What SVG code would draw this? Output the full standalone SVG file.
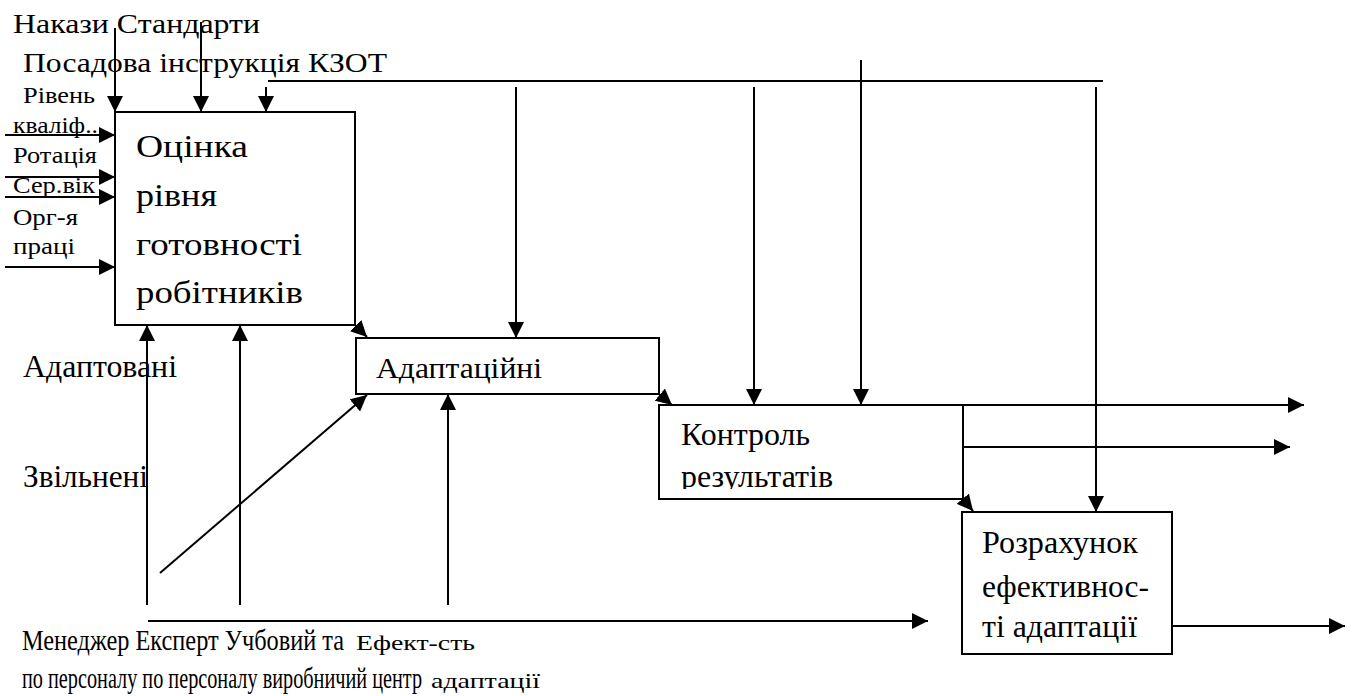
<svg xmlns="http://www.w3.org/2000/svg" width="1352" height="696" viewBox="0 0 1352 696" font-family="Liberation Serif, DejaVu Serif, Times New Roman, serif">
<defs>
<marker id="ah" markerUnits="userSpaceOnUse" markerWidth="16" markerHeight="16" refX="16" refY="8" orient="auto">
<path d="M0,0 L16,8 L0,16 Z" fill="#000"/>
</marker>
<clipPath id="clip3"><rect x="659" y="405" width="304" height="84"/></clipPath>
<style>
text{font-family:"Liberation Serif","DejaVu Serif","Times New Roman",serif;fill:#000}
.box{fill:#fff;stroke:#000;stroke-width:2}
.c line{stroke:#000;stroke-width:2;fill:none}
.a{marker-end:url(#ah)}
</style>
</defs>
<rect width="1352" height="696" fill="#fff"/>
<g id="labels">
<text x="13" y="33" font-size="27" textLength="247" lengthAdjust="spacingAndGlyphs">Накази Стандарти</text>
<text x="23" y="72" font-size="28" textLength="364" lengthAdjust="spacingAndGlyphs">Посадова інструкція КЗОТ</text>
<text x="23" y="103" font-size="23" textLength="72" lengthAdjust="spacingAndGlyphs">Рівень</text>
<text x="13" y="133" font-size="23" textLength="85" lengthAdjust="spacingAndGlyphs">кваліф..</text>
<text x="13" y="163" font-size="23" textLength="84" lengthAdjust="spacingAndGlyphs">Ротація</text>
<text x="13" y="193" font-size="23" textLength="82" lengthAdjust="spacingAndGlyphs">Сер.вік</text>
<text x="13" y="225" font-size="23" textLength="65" lengthAdjust="spacingAndGlyphs">Орг-я</text>
<text x="13" y="254" font-size="23" textLength="62" lengthAdjust="spacingAndGlyphs">праці</text>
<text x="23" y="377" font-size="31" textLength="154" lengthAdjust="spacingAndGlyphs">Адаптовані</text>
<text x="23" y="487" font-size="31" textLength="125" lengthAdjust="spacingAndGlyphs">Звільнені</text>
<text y="650" font-size="29"><tspan x="22" textLength="322" lengthAdjust="spacingAndGlyphs">Менеджер Експерт Учбовий та</tspan><tspan x="356" font-size="22" textLength="119" lengthAdjust="spacingAndGlyphs">Ефект-сть</tspan></text>
<text y="688" font-size="29"><tspan x="22" textLength="400" lengthAdjust="spacingAndGlyphs">по персоналу по персоналу виробничий центр</tspan><tspan x="431" font-size="22" textLength="109" lengthAdjust="spacingAndGlyphs">адаптації</tspan></text>
</g>
<g id="node1">
<rect class="box" x="115" y="112" width="240" height="213"/>
<text x="136" y="157" font-size="32" textLength="112" lengthAdjust="spacingAndGlyphs">Оцінка</text>
<text x="136" y="206" font-size="32" textLength="81" lengthAdjust="spacingAndGlyphs">рівня</text>
<text x="136" y="255" font-size="32" textLength="166" lengthAdjust="spacingAndGlyphs">готовності</text>
<text x="136" y="303" font-size="32" textLength="167" lengthAdjust="spacingAndGlyphs">робітників</text>
</g>
<g id="node2">
<rect class="box" x="356" y="338" width="303" height="56"/>
<text x="376" y="378" font-size="30" textLength="166" lengthAdjust="spacingAndGlyphs">Адаптаційні</text>
</g>
<g id="node3">
<rect class="box" x="659" y="405" width="304" height="94"/>
<g clip-path="url(#clip3)">
<text x="681" y="445" font-size="32" textLength="129" lengthAdjust="spacingAndGlyphs">Контроль</text>
<text x="681" y="487" font-size="32" textLength="152" lengthAdjust="spacingAndGlyphs">результатів</text>
</g>
</g>
<g id="node4">
<rect class="box" x="962" y="512" width="210" height="142"/>
<text x="982" y="553" font-size="31" textLength="156" lengthAdjust="spacingAndGlyphs">Розрахунок</text>
<text x="982" y="597" font-size="31" textLength="167" lengthAdjust="spacingAndGlyphs">ефективнос-</text>
<text x="982" y="637" font-size="31" textLength="155" lengthAdjust="spacingAndGlyphs">ті адаптації</text>
</g>
<g id="connectors" class="c">
<line class="a" x1="115" y1="28" x2="115" y2="112"/>
<line class="a" x1="201" y1="22" x2="201" y2="112"/>
<line class="a" x1="266" y1="87" x2="266" y2="112"/>
<line x1="268" y1="81" x2="1103" y2="81"/>
<line class="a" x1="516" y1="87" x2="516" y2="338"/>
<line class="a" x1="754" y1="87" x2="754" y2="405"/>
<line class="a" x1="861" y1="60" x2="861" y2="405"/>
<line class="a" x1="1096" y1="87" x2="1096" y2="512"/>
<line class="a" x1="5" y1="135" x2="115" y2="135"/>
<line class="a" x1="5" y1="177" x2="115" y2="177"/>
<line class="a" x1="5" y1="197" x2="115" y2="197"/>
<line class="a" x1="5" y1="267" x2="115" y2="267"/>
<line class="a" x1="355" y1="325" x2="367" y2="337"/>
<line class="a" x1="659" y1="394" x2="672" y2="405"/>
<line class="a" x1="963" y1="499" x2="973" y2="511"/>
<line class="a" x1="963" y1="405" x2="1304" y2="405"/>
<line class="a" x1="963" y1="447" x2="1290" y2="447"/>
<line class="a" x1="1172" y1="626" x2="1345" y2="626"/>
<line class="a" x1="147" y1="605" x2="147" y2="325"/>
<line class="a" x1="240" y1="605" x2="240" y2="325"/>
<line class="a" x1="448" y1="605" x2="448" y2="394"/>
<line class="a" x1="160" y1="573" x2="367" y2="395"/>
<line class="a" x1="148" y1="621" x2="928" y2="621"/>
</g>
</svg>
